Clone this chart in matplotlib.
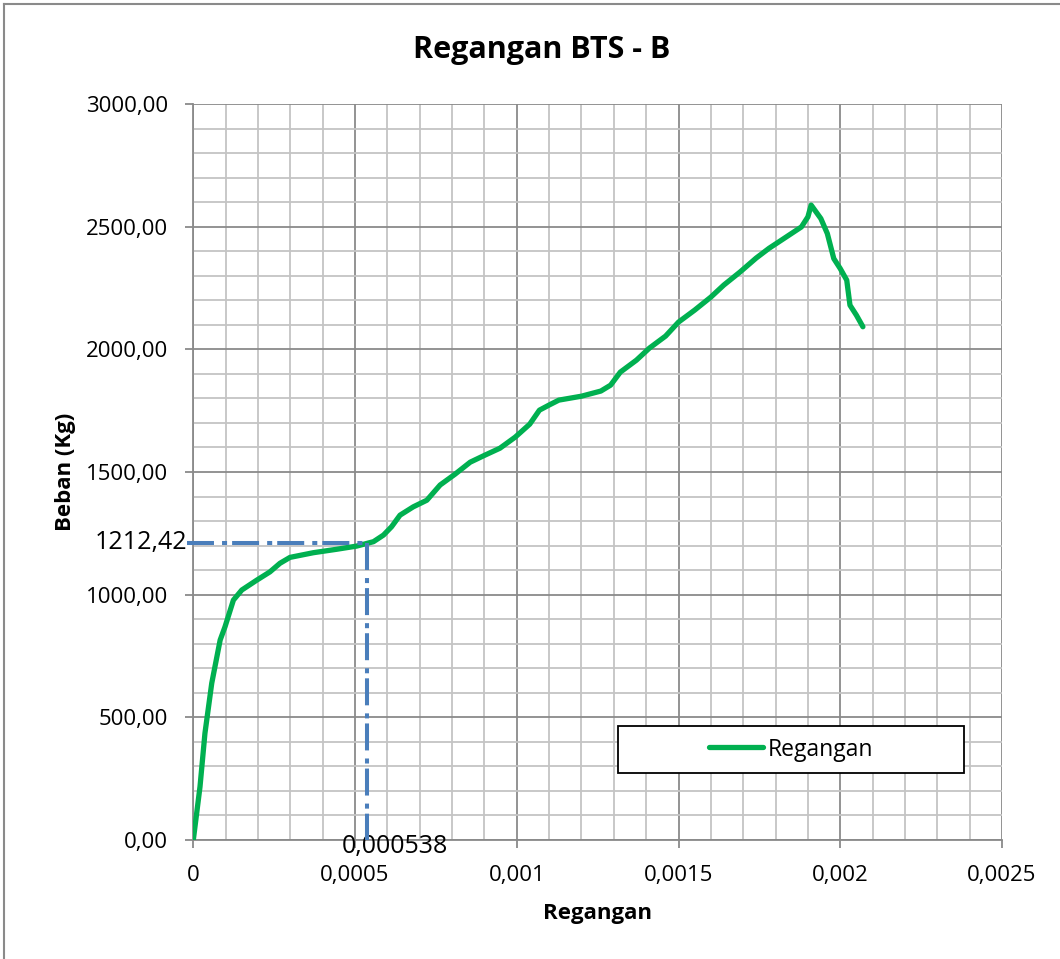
import matplotlib.pyplot as plt
from matplotlib.lines import Line2D
from matplotlib.patches import Rectangle
from matplotlib.ticker import MultipleLocator, FixedLocator

# strain vs load readings
regangan = [0, 0.0000207, 0.000036, 0.000057, 0.000083, 0.000098, 0.000124, 0.00015,
            0.000196, 0.000237, 0.000268, 0.000299, 0.000371, 0.000443, 0.000505,
            0.000557, 0.000588, 0.000613, 0.000639, 0.00068, 0.000722, 0.000763,
            0.000809, 0.000856, 0.000902, 0.000948, 0.000995, 0.00104, 0.00107,
            0.0011, 0.00113, 0.0012, 0.00126, 0.00129, 0.00132, 0.00137, 0.00141,
            0.00146, 0.0015, 0.00155, 0.0016, 0.00164, 0.00169, 0.00174, 0.00178,
            0.00181, 0.00188, 0.0019, 0.00191, 0.00194, 0.00196, 0.00198, 0.002,
            0.00202, 0.00203, 0.00205, 0.00207]
beban = [0, 217, 435, 639, 815, 869, 978, 1019,
         1059, 1093, 1128, 1152, 1171, 1185, 1198,
         1216, 1243, 1277, 1324, 1358, 1385, 1447,
         1491, 1540, 1569, 1597, 1642, 1695, 1752,
         1773, 1793, 1809, 1830, 1854, 1907, 1956, 2005,
         2054, 2111, 2160, 2213, 2262, 2315, 2372, 2412,
         2438, 2499, 2540, 2588, 2533, 2472, 2370, 2329,
         2282, 2180, 2139, 2092]

# yield point marked on the chart
x_leleh = 0.000538
y_leleh = 1212.42

x_ticks = [0, 0.0005, 0.001, 0.0015, 0.002, 0.0025]
x_labels = ["0", "0,0005", "0,001", "0,0015", "0,002", "0,0025"]
y_ticks = [0, 500, 1000, 1500, 2000, 2500, 3000]
y_labels = [("%.2f" % v).replace(".", ",") for v in y_ticks]

plt.rcParams['font.family'] = ['Open Sans', 'DejaVu Sans']

W, H = 1060, 959
fig = plt.figure(figsize=(W / 100, H / 100), dpi=100)
ax = fig.add_axes([193.3 / W, 1 - 840 / H, (1002 - 193.3) / W, (840 - 104) / H])

ax.set_xlim(0, 0.0025)
ax.set_ylim(0, 3000)
ax.xaxis.set_major_locator(FixedLocator(x_ticks))
ax.set_xticklabels(x_labels)
ax.yaxis.set_major_locator(FixedLocator(y_ticks))
ax.set_yticklabels(y_labels)
ax.xaxis.set_minor_locator(MultipleLocator(0.0001))
ax.yaxis.set_minor_locator(MultipleLocator(100))

ax.grid(which='minor', color='#c4c4c4', linewidth=1.3)
ax.grid(which='major', color='#8a8a8a', linewidth=1.3)
ax.set_axisbelow(True)
ax.tick_params(which='major', length=6, width=1.3, color='#8a8a8a', labelsize=16)
ax.tick_params(axis='x', pad=12)
ax.tick_params(axis='y', pad=12)
ax.tick_params(which='minor', length=0)
for s in ['top', 'right']:
    ax.spines[s].set_visible(False)
for s in ['left', 'bottom']:
    ax.spines[s].set_color('#8a8a8a')
    ax.spines[s].set_linewidth(1.3)

ax.plot(regangan, beban, color='#00b050', linewidth=3.8, solid_capstyle='round',
        solid_joinstyle='round', zorder=3)

dash = (0, (6.7, 2.0, 1.25, 1.25))
ax.plot([-0.00002, x_leleh], [y_leleh, y_leleh], color='#4a7ebb', linewidth=2.9,
        linestyle=dash, dash_capstyle='butt', clip_on=False, zorder=4)
ax.plot([x_leleh, x_leleh], [y_leleh, 0], color='#4a7ebb', linewidth=2.9,
        linestyle=dash, dash_capstyle='butt', zorder=4)

ax.annotate("1212,42", (0, y_leleh), xytext=(-4.5, 0), textcoords='offset points',
            fontsize=18, ha='right', va='center', annotation_clip=False)
ax.annotate("0,000538", (x_leleh, 0), xytext=(20, 4), textcoords='offset points',
            fontsize=18, ha='center', va='top', annotation_clip=False)

fig.text(542 / W, 1 - 50 / H, "Regangan BTS - B", fontsize=22, fontweight='bold',
         ha='center', va='center')
ax.set_xlabel("Regangan", fontsize=16, fontweight='bold', va='center')
ax.xaxis.set_label_coords(0.5, (840 - 914) / 736)
ax.set_ylabel("Beban (Kg)", fontsize=16, fontweight='bold', va='center')
ax.yaxis.set_label_coords((65 - 193.3) / 808.7, 0.5)

# legend box
fig.add_artist(Rectangle((618 / W, 1 - 773 / H), (964 - 618) / W, 47 / H,
                         facecolor='white', edgecolor='black', linewidth=1.3, zorder=5))
handle = Line2D([], [], color='#00b050', linewidth=3.8, solid_capstyle='round')
leg = fig.legend([handle], ["Regangan"], loc='center',
                 bbox_to_anchor=(791 / W, 1 - 749.5 / H), fontsize=16.5,
                 frameon=False, handlelength=2.36, handletextpad=0.2)
leg.set_zorder(6)

# outer chart frame
fig.add_artist(Line2D([4 / W, 1], [1 - 4 / H, 1 - 4 / H], color='#8a8a8a', linewidth=1.5))
fig.add_artist(Line2D([4 / W, 4 / W], [0, 1 - 4 / H], color='#8a8a8a', linewidth=1.5))

fig.savefig("out.png", dpi=100)
